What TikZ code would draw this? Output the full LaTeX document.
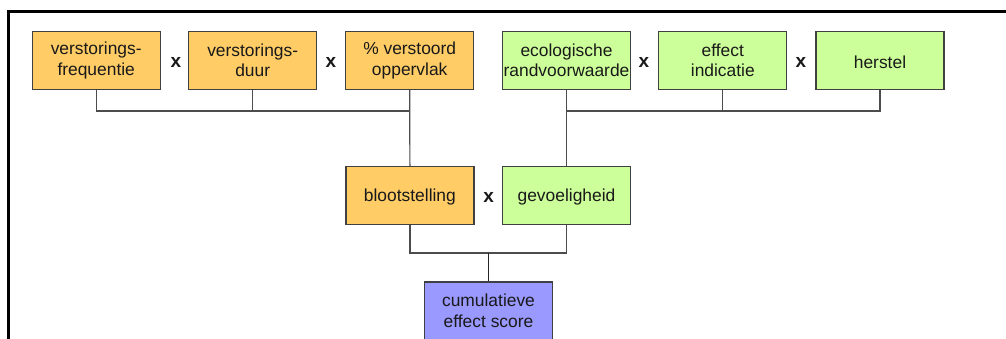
\documentclass[tikz,border=0pt]{standalone}
\usepackage{fontspec}
\setmainfont{Liberation Sans}
\newcommand{\lowertxt}[1]{\raisebox{-2pt}[\height][\depth]{#1}}
\begin{document}
\begin{tikzpicture}[x=1pt,y=-1pt,
  box/.style={draw=black!75, line width=1.2pt, minimum width=128pt, minimum height=58pt,
    inner sep=0pt, align=center, font=\fontsize{17.4}{20.5}\selectfont, text=black!90},
  orangebox/.style={box, fill=orangefill},
  greenbox/.style={box, fill=greenfill},
  bluebox/.style={box, fill=bluefill},
  times/.style={font=\bfseries\fontsize{19}{20}\selectfont, inner sep=0pt, text=black!90},
  conn/.style={draw=black!70, line width=1.2pt}
]
\definecolor{orangefill}{HTML}{FFCC66}
\definecolor{greenfill}{HTML}{CCFF99}
\definecolor{bluefill}{HTML}{9999FF}
\useasboundingbox (0,0) rectangle (1006,338);
% frame
\draw[line width=3pt] (8.7,345) -- (8.7,11.3) -- (1015,11.3);
% top row
\node[orangebox] (vf) at (96.2,60.3) {verstorings-\\frequentie};
\node[orangebox] (vd) at (252.7,60.3) {verstorings-\\duur};
\node[orangebox] (vo) at (409.7,60.3) {\% verstoord\\oppervlak};
\node[greenbox] (er) at (566.5,60.3) {ecologische\\randvoorwaarde};
\node[greenbox] (ei) at (722.8,60.3) {effect\\indicatie};
\node[greenbox] (he) at (880,60.3) {\lowertxt{herstel}};
\node[times] (x1) at (176,62.5) {x};
\node[times] (x2) at (331,62.5) {x};
\node[times] (x3) at (644,62.5) {x};
\node[times] (x4) at (801,62.5) {x};
% middle row
\node[orangebox] (bl) at (409.9,195.4) {\lowertxt{blootstelling}};
\node[greenbox] (ge) at (566.5,195.4) {\lowertxt{gevoeligheid}};
\node[times] (x5) at (488.7,197.5) {x};
% bottom
\node[bluebox] (cu) at (488.5,311) {cumulatieve\\effect score};
% connectors
\coordinate (jl) at (409.7,111);
\coordinate (jr) at (566.5,111);
\coordinate (jb) at (488.5,253);
\draw[conn] (vf.south) |- (jl);
\draw[conn] (vd.south) -- (vd.south |- jl);
\draw[conn] (vo.south) -- (bl.north);
\draw[conn] (he.south) |- (jr);
\draw[conn] (ei.south) -- (ei.south |- jr);
\draw[conn] (er.south) -- (ge.north);
\draw[conn] (bl.south) |- (jb);
\draw[conn] (ge.south) |- (jb);
\draw[conn, draw=black!85] (jb) -- (cu.north);
\end{tikzpicture}
\end{document}
